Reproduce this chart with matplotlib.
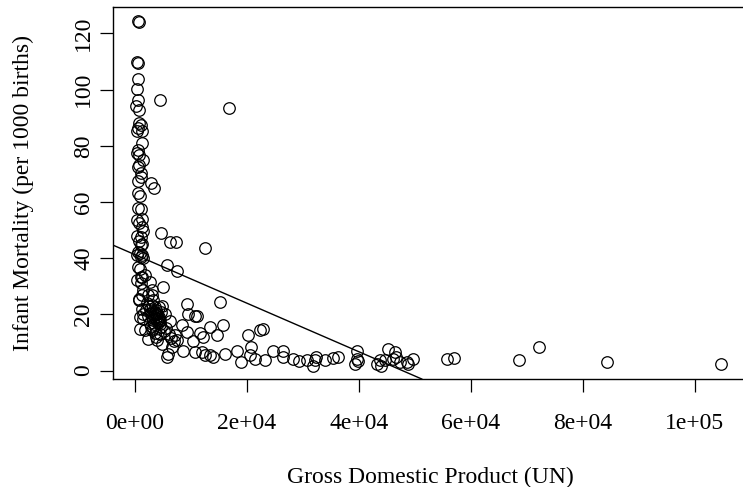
import numpy as np
import matplotlib.pyplot as plt

# infant mortality vs GDP per person (UN data)
# column of poor countries (gdp < 1600)
gdp_low = [499, 707, 400, 550, 480, 300, 480, 200, 700, 480, 1100, 300, 1300,
           1300, 300, 700, 1500, 600, 1100, 600, 600, 900, 500, 1000, 1200,
           400, 800, 1300, 1400, 400, 1000, 700, 1100, 1300, 600, 900, 1200,
           300, 1100, 1400, 600, 900, 1100, 1200, 400, 1000, 1500, 700, 1300,
           800, 1450, 900, 1400, 900, 1200, 500, 800, 1000, 650]
imr_low = [124.5, 124.0, 110.0, 109.5, 103.8, 100.2, 96.4, 94.3, 92.9, 86.3,
           87.5, 85.1, 85.1, 81.0, 77.4, 76.8, 75.0, 72.6, 70.2, 67.3, 63.1,
           62.1, 58.0, 57.5, 54.0, 53.5, 52.4, 51.0, 49.5, 48.0, 47.6, 46.0,
           44.6, 45.0, 42.3, 41.7, 41.0, 41.1, 40.4, 39.9, 36.9, 36.3, 33.3,
           33.3, 32.1, 31.0, 28.6, 25.6, 26.8, 25.0, 18.5, 14.9, 20.0, 19.0,
           22.0, 78.5, 73.0, 69.0, 88.0]

# dense cluster of middle income countries
gdp_clu = [2680, 2980, 2980, 3270, 5060, 1800, 2380, 4460, 7140, 4760, 6550,
           5950, 5650, 2000, 2200, 2500, 2700, 2900, 3100, 3300, 3500, 3700,
           3900, 4100, 4300, 4500, 4700, 2600, 2800, 3000, 3200, 3400, 3600,
           3800, 4000, 4200, 4400, 3500, 3700, 3900, 4100, 5200, 5500, 6000,
           6500, 7000, 7500, 2400, 3000, 3600, 4200, 4800, 5400, 6200, 2300,
           1700, 3800, 4600]
imr_clu = [31.5, 28.6, 26.8, 25.0, 29.8, 14.3, 11.3, 13.1, 12.5, 9.5, 8.3,
           5.9, 4.8, 21.4, 24.0, 23.0, 22.0, 20.5, 19.0, 18.0, 21.0, 20.0,
           19.5, 18.5, 17.5, 16.5, 15.5, 17.0, 16.0, 14.5, 15.0, 16.5, 22.5,
           21.5, 20.0, 19.0, 18.0, 13.5, 12.0, 11.0, 17.0, 14.0, 15.0, 13.0,
           11.5, 10.5, 11.0, 27.0, 23.5, 20.5, 22.5, 23.0, 20.0, 17.5, 19.5,
           34.0, 18.5, 21.0]

gdp_mid = [4400, 16850, 2860, 3390, 4640, 6250, 7320, 12500, 5650, 7440, 9230,
           15180, 9530, 10700, 11000, 8340, 9230, 11600, 12200, 13400, 14600,
           15770, 10400, 10700, 8630, 11900, 12500, 13400, 14000, 16100, 18200,
           19000, 20500, 20800, 20200, 22300, 22900, 21400, 23200, 24700]
imr_mid = [96.2, 93.3, 66.9, 64.9, 49.0, 45.8, 45.8, 43.8, 37.5, 35.5, 23.8,
           24.4, 20.2, 19.6, 19.4, 16.1, 13.7, 13.2, 11.9, 15.5, 12.5, 16.1,
           10.7, 6.5, 7.1, 6.5, 5.4, 5.4, 4.8, 5.9, 7.1, 3.0, 5.4, 8.3, 12.5,
           14.3, 14.9, 4.2, 3.6, 7.1]

gdp_high = [26500, 26500, 28300, 29200, 30700, 31800, 32400, 32100, 33900,
            35400, 36300, 39600, 39600, 39300, 39900, 43200, 43800, 44000,
            44600, 45200, 46100, 46400, 46700, 47300, 48800, 49700, 48500,
            55700, 57000, 68600, 72200, 84300, 104700]
imr_high = [7.1, 4.8, 4.2, 3.3, 3.8, 1.8, 4.8, 3.6, 3.6, 4.5, 4.8, 7.1, 4.2,
            2.4, 3.3, 2.4, 3.6, 1.8, 3.6, 7.7, 4.2, 6.5, 4.8, 3.0, 2.4, 4.2,
            3.0, 4.2, 4.5, 3.6, 8.3, 3.0, 2.4]

# least squares line as drawn (abline)
intercept = 41.25
slope = -0.000864

xticks = [0, 20000, 40000, 60000, 80000, 100000]
xticklabels = ['0e+00', '2e+04', '4e+04', '6e+04', '8e+04', '1e+05']
yticks = [0, 20, 40, 60, 80, 100, 120]

gdp = np.array(gdp_low + gdp_clu + gdp_mid + gdp_high, dtype=float)
imr = np.array(imr_low + imr_clu + imr_mid + imr_high, dtype=float)

plt.rcParams['font.family'] = ['Liberation Serif', 'DejaVu Serif']
fs = 17

W, H = 743, 487
fig = plt.figure(figsize=(W / 100, H / 100), dpi=100)
ax = fig.add_axes([113 / W, (H - 379) / H, (747 - 113) / W, (379 - 7) / H])

ax.plot(gdp, imr, 'o', mfc='none', mec='black', ms=8.3, mew=0.9)
ax.axline((0, intercept), slope=slope, color='black', lw=1.0)

ax.set_xlim(-3930, 109300)
ax.set_ylim(-3.0, 129.4)
ax.set_xticks(xticks)
ax.set_xticklabels(xticklabels)
ax.set_yticks(yticks)

for s in ax.spines.values():
    s.set_linewidth(1.0)

ax.tick_params(axis='both', direction='out', length=9.4, width=0.9, labelsize=fs)
ax.tick_params(axis='x', pad=15)
ax.tick_params(axis='y', pad=4)
for lab in ax.get_yticklabels():
    lab.set_rotation(90)
    lab.set_va('center')

ax.set_xlabel('Gross Domestic Product (UN)', fontsize=fs, labelpad=24)
ax.set_ylabel('Infant Mortality (per 1000 births)', fontsize=fs, labelpad=28)

fig.savefig('out.png', dpi=100)
